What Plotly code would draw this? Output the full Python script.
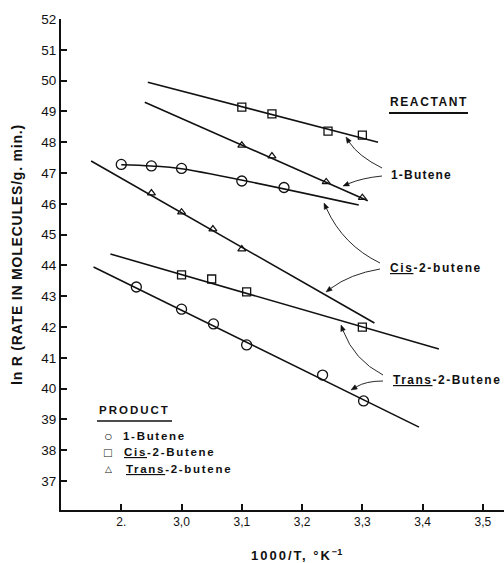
import plotly.graph_objects as go

# ---------------- data ----------------
# Reactant 1-Butene
r1_cis_x = [3.10, 3.15, 3.243, 3.30]
r1_cis_y = [49.14, 48.92, 48.36, 48.23]
r1_cis_fit_x = [2.944, 3.326]
r1_cis_fit_y = [49.95, 48.00]

r1_trans_x = [3.10, 3.15, 3.24, 3.30]
r1_trans_y = [47.90, 47.55, 46.71, 46.20]
r1_trans_fit_x = [2.939, 3.309]
r1_trans_fit_y = [49.30, 46.10]

# Reactant Cis-2-butene
r2_one_x = [2.90, 2.95, 3.00, 3.10, 3.17]
r2_one_y = [47.28, 47.23, 47.15, 46.74, 46.53]
r2_one_fit_x = [2.90, 2.95, 3.00, 3.294]
r2_one_fit_y = [47.27, 47.23, 47.14, 45.96]

r2_trans_x = [2.95, 3.00, 3.052, 3.10]
r2_trans_y = [46.35, 45.73, 45.18, 44.53]
r2_trans_fit_x = [2.85, 3.32]
r2_trans_fit_y = [47.39, 42.13]

# Reactant Trans-2-Butene
r3_cis_x = [3.00, 3.05, 3.108, 3.30]
r3_cis_y = [43.69, 43.56, 43.14, 42.00]
r3_cis_fit_x = [2.882, 3.427]
r3_cis_fit_y = [44.37, 41.29]

r3_one_x = [2.925, 3.00, 3.053, 3.108, 3.234, 3.302]
r3_one_y = [43.30, 42.58, 42.10, 41.42, 40.44, 39.60]
r3_one_fit_x = [2.854, 3.394]
r3_one_fit_y = [43.95, 38.75]

x_tick_vals = [2.9, 3.0, 3.1, 3.2, 3.3, 3.4, 3.5]
x_tick_text = ["2.", "3,0", "3,1", "3,2", "3,3", "3,4", "3,5"]
y_tick_vals = list(range(37, 53))

# ---------------- geometry helpers ----------------
W, H = 504, 563
L, R, T, B = 61, 0, 19, 53
XR = [2.8, 3.535]
YR = [36.06, 52.0]
PW, PH = W - L - R, H - T - B


def px2x(px):
    return XR[0] + (px - L) / PW * (XR[1] - XR[0])


def py2y(py):
    return YR[1] - (py - T) / PH * (YR[1] - YR[0])


FONT = "Liberation Sans, Arial, sans-serif"
INK = "#111111"

fig = go.Figure()

fits = [
    (r1_cis_fit_x, r1_cis_fit_y, "linear"),
    (r1_trans_fit_x, r1_trans_fit_y, "linear"),
    (r2_one_fit_x, r2_one_fit_y, "spline"),
    (r2_trans_fit_x, r2_trans_fit_y, "linear"),
    (r3_cis_fit_x, r3_cis_fit_y, "linear"),
    (r3_one_fit_x, r3_one_fit_y, "linear"),
]
for fx, fy, shp in fits:
    fig.add_trace(go.Scatter(x=fx, y=fy, mode="lines",
                             line=dict(color=INK, width=1.6, shape=shp),
                             showlegend=False, hoverinfo="skip"))

circle = dict(symbol="circle-open", size=10, color=INK, line=dict(width=1.3, color=INK))
square = dict(symbol="square-open", size=8, color=INK, line=dict(width=1.3, color=INK))
tri = dict(symbol="triangle-up-open", size=7, color=INK, line=dict(width=1.2, color=INK))

pts = [
    (r1_cis_x, r1_cis_y, square),
    (r1_trans_x, r1_trans_y, tri),
    (r2_one_x, r2_one_y, circle),
    (r2_trans_x, r2_trans_y, tri),
    (r3_cis_x, r3_cis_y, square),
    (r3_one_x, r3_one_y, circle),
]
for x, y, m in pts:
    fig.add_trace(go.Scatter(x=x, y=y, mode="markers", marker=m,
                             showlegend=False))

ann = []
shapes = []


def label(px, py, text, size=12, anchor="left"):
    ann.append(dict(x=px2x(px), y=py2y(py), xref="x", yref="y", text=text,
                    showarrow=False, xanchor=anchor, yanchor="middle",
                    font=dict(family=FONT, size=size, color=INK)))


def ul(text):
    return '<span style="text-decoration:underline">' + text + '</span>'


def sp(text, s=1.2):
    return '<span style="letter-spacing:%spx">' % s + text + '</span>'


# Reactant labels
label(388, 102, "<b>" + sp("REACTANT", 1.6) + "</b>", 12)
shapes.append(dict(type="line", xref="x", yref="y", x0=px2x(389), x1=px2x(468),
                   y0=py2y(113), y1=py2y(113), line=dict(color=INK, width=2)))
label(389, 175, "<b>" + sp("1-Butene", 1.2) + "</b>", 12)
label(388, 268, "<b>" + sp(ul("Cis") + "-2-butene", 1.6) + "</b>", 12)
label(391, 380, "<b>" + sp(ul("Trans") + "-2-Butene", 1.5) + "</b>", 12)

# curved arrows (start, control, tip) in pixels
arrows = [
    ((382, 168), (358, 156), (346, 137)),
    ((382, 176), (362, 178), (343, 186)),
    ((380, 263), (343, 245), (324, 203)),
    ((380, 269), (350, 274), (326, 292)),
    ((383, 375), (354, 360), (341, 325)),
    ((383, 381), (366, 381), (351, 390)),
]
for (sx, sy), (cx, cy), (tx, ty) in arrows:
    dx, dy = cx - tx, cy - ty
    n = (dx * dx + dy * dy) ** 0.5
    ux, uy = dx / n, dy / n
    bx, by = tx + ux * 6, ty + uy * 6
    path = "M %f,%f Q %f,%f %f,%f" % (px2x(sx), py2y(sy), px2x(cx), py2y(cy),
                                       px2x(bx), py2y(by))
    shapes.append(dict(type="path", xref="x", yref="y", path=path,
                       line=dict(color=INK, width=0.9)))
    hx1, hy1 = bx - uy * 2.4, by + ux * 2.4
    hx2, hy2 = bx + uy * 2.4, by - ux * 2.4
    head = "M %f,%f L %f,%f L %f,%f Z" % (px2x(tx), py2y(ty), px2x(hx1), py2y(hy1),
                                          px2x(hx2), py2y(hy2))
    shapes.append(dict(type="path", xref="x", yref="y", path=head,
                       fillcolor=INK, line=dict(color=INK, width=0.5)))

# Product legend
label(97, 410, "<b>" + sp("PRODUCT", 2.0) + "</b>", 11.5)
shapes.append(dict(type="line", xref="x", yref="y", x0=px2x(97), x1=px2x(172),
                   y0=py2y(421), y1=py2y(421), line=dict(color=INK, width=1.5)))
label(108, 436, "○", 14, "center")
label(108, 452, "□", 13, "center")
label(108, 469, "△", 9, "center")
label(121, 436, "<b>" + sp("1-Butene", 1.7) + "</b>", 11.5)
label(122, 452, "<b>" + sp(ul("Cis") + "-2-Butene", 1.7) + "</b>", 11.5)
label(124, 469, "<b>" + sp(ul("Trans") + "-2-butene", 1.7) + "</b>", 11.5)

# axis titles
ann.append(dict(x=(17 - L) / PW, y=(H - B - 255) / PH, xref="paper", yref="paper",
                text="<b>" + sp("ln R (RATE IN MOLECULES/g. min.)", 0.8) + "</b>",
                textangle=-90,
                showarrow=False, xanchor="center", yanchor="middle",
                font=dict(family=FONT, size=14, color=INK)))
ann.append(dict(x=(296 - L) / PW, y=(H - B - 555) / PH, xref="paper", yref="paper",
                text="<b>" + sp("1000/T, °K", 2.0) + "<sup>−1</sup></b>",
                showarrow=False, xanchor="center", yanchor="middle",
                font=dict(family=FONT, size=13, color=INK)))

fig.update_layout(
    width=W, height=H,
    margin=dict(l=L, r=R, t=T, b=B, pad=0),
    paper_bgcolor="white", plot_bgcolor="white",
    showlegend=False,
    annotations=ann, shapes=shapes,
    font=dict(family=FONT, color=INK),
)
fig.update_xaxes(range=XR, showgrid=False, zeroline=False,
                 showline=True, linecolor=INK, linewidth=1.6,
                 ticks="inside", ticklen=6, tickwidth=1.6, tickcolor=INK,
                 tickvals=x_tick_vals, ticktext=x_tick_text,
                 tickfont=dict(family=FONT, size=12, color=INK))
fig.update_yaxes(range=YR, showgrid=False, zeroline=False,
                 showline=True, linecolor=INK, linewidth=1.8,
                 ticks="inside", ticklen=6, tickwidth=1.6, tickcolor=INK,
                 tickvals=y_tick_vals,
                 tickfont=dict(family=FONT, size=13.5, color=INK))

fig.write_html("out.html")
